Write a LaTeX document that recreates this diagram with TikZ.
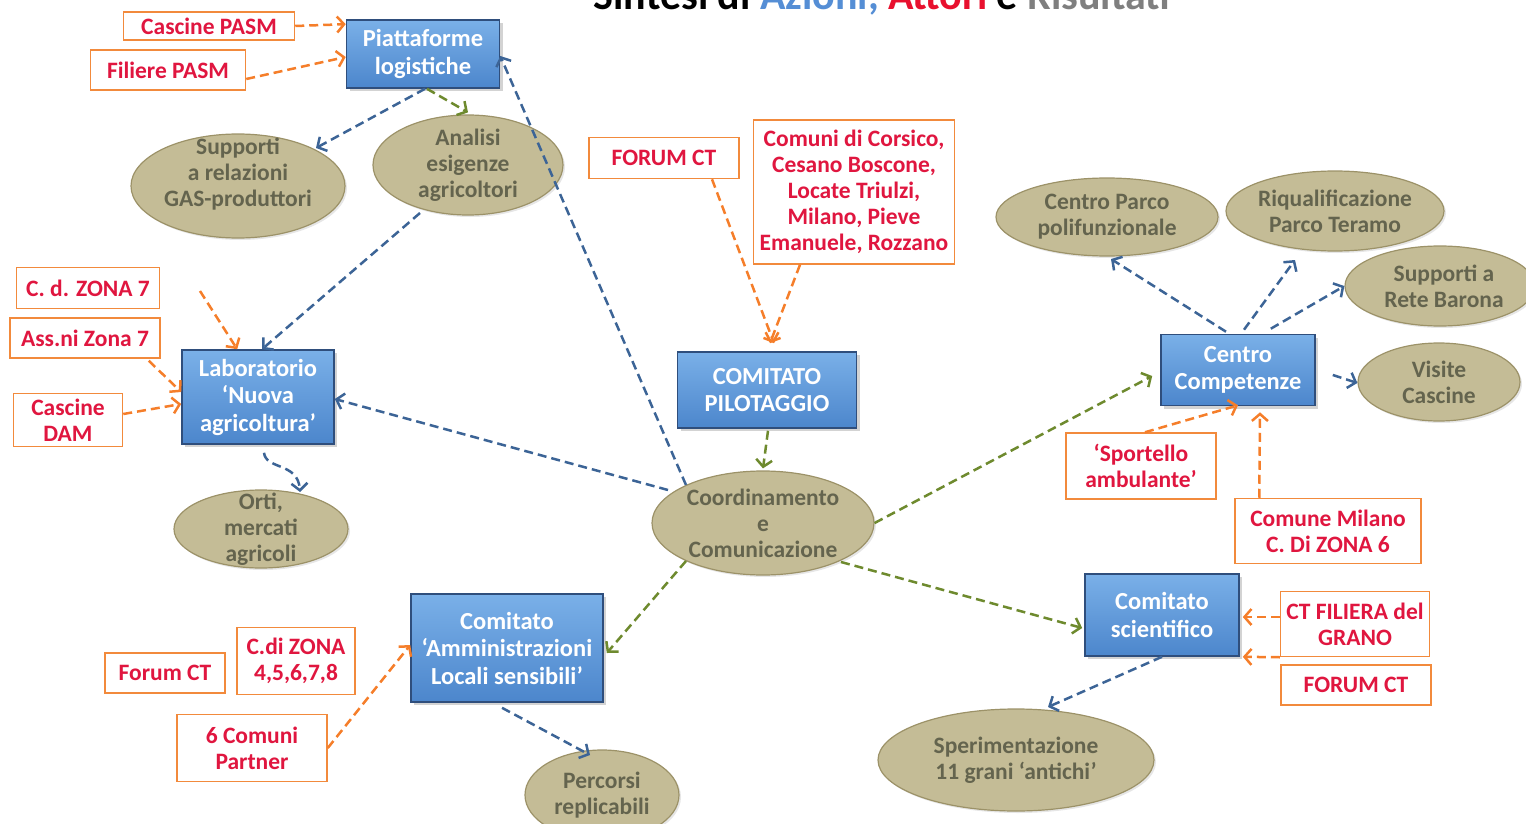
\documentclass[tikz,border=0pt]{standalone}
\usepackage{fontspec}
\setmainfont{Carlito}
\usetikzlibrary{arrows.meta,shadows,calc,shapes.geometric}
\definecolor{actTop}{HTML}{7AB0E8}
\definecolor{actBot}{HTML}{4C86CC}
\definecolor{actBorder}{HTML}{2F4E7C}
\definecolor{resFill}{HTML}{C4BC96}
\definecolor{resBorder}{HTML}{9C9268}
\definecolor{resText}{HTML}{64644E}
\definecolor{atBorder}{HTML}{F28A3C}
\definecolor{atText}{HTML}{E0163F}
\definecolor{arOrange}{HTML}{F57E2A}
\definecolor{arBlue}{HTML}{3C6496}
\definecolor{arGreen}{HTML}{6E8A2E}
\definecolor{tBlue}{HTML}{558ED5}
\definecolor{tRed}{HTML}{E8102E}
\definecolor{tGray}{HTML}{7F7F7F}
\tikzset{
  txt/.style={font=\fontsize{23.5}{26}\selectfont\bfseries, align=center},
  act/.style={rectangle, draw=actBorder, line width=1.6pt, top color=actTop, bottom color=actBot,
    text=white, font=\fontsize{24.5}{27.5}\selectfont\bfseries, align=center, inner sep=0pt,
    drop shadow={shadow xshift=3pt, shadow yshift=-3pt, opacity=0.35}},
  res/.style={ellipse, draw=resBorder, line width=1.2pt, fill=resFill, inner sep=0pt,
    drop shadow={shadow xshift=2pt, shadow yshift=-2pt, opacity=0.2}},
  restxt/.style={txt, text=resText},
  ator/.style={rectangle, draw=atBorder, line width=1.5pt, fill=white, text=atText, txt, inner sep=0pt},
  conn/.style={line width=2.5pt, dash pattern=on 9pt off 5pt, -{Straight Barb[length=7pt,width=16pt]}},
  oa/.style={conn, draw=arOrange},
  ba/.style={conn, draw=arBlue},
  ga/.style={conn, draw=arGreen},
}
\begin{document}
\begin{tikzpicture}[x=1pt,y=-1pt]
\useasboundingbox (0,0) rectangle (1526,824);
% title (cut at top)
\node[anchor=base, font=\fontsize{42}{48}\selectfont\bfseries, inner sep=0pt] (title) at (882,10)
  {Sintesi di \textcolor{tBlue}{Azioni,} \textcolor{tRed}{Attori} e \textcolor{tGray}{Risultati}};

% Actions
\node[act, minimum width=153pt, minimum height=68pt] (piat) at (423,54) {Piattaforme\\logistiche};
\node[act, minimum width=152pt, minimum height=94pt] (lab) at (258,397) {Laboratorio\\‘Nuova\\agricoltura’};
\node[act, minimum width=179pt, minimum height=76pt] (pilot) at (767,390) {COMITATO\\PILOTAGGIO};
\node[act, minimum width=154pt, minimum height=71pt] (cc) at (1238,370) {Centro\\Competenze};
\node[act, minimum width=192pt, minimum height=108pt] (amm) at (507,648) {Comitato\\‘Amministrazioni\\Locali sensibili’};
\node[act, minimum width=154pt, minimum height=82pt] (sci) at (1162,615) {Comitato\\scientifico};

% Results
\node[res, minimum width=214pt, minimum height=104pt] (gas) at (238,186) {};
\node[restxt] at (238,174) {Supporti\\a relazioni\\GAS-produttori};
\node[res, minimum width=190pt, minimum height=100pt] (anal) at (468,165) {};
\node[restxt] at (anal) {Analisi\\esigenze\\agricoltori};
\node[res, minimum width=174pt, minimum height=78pt] (orti) at (261,529) {};
\node[restxt] at (orti) {Orti,\\mercati\\agricoli};
\node[res, minimum width=222pt, minimum height=104pt] (coord) at (763,523) {};
\node[restxt] at (coord) {Coordinamento\\e\\Comunicazione};
\node[res, minimum width=222pt, minimum height=78pt] (parco) at (1107,217) {};
\node[restxt] at (parco) {Centro Parco\\polifunzionale};
\node[res, minimum width=218pt, minimum height=80pt] (teramo) at (1335,211) {};
\node[restxt] at (teramo) {Riqualificazione\\Parco Teramo};
\node[res, minimum width=190pt, minimum height=80pt] (barona) at (1440,286) {};
\node[restxt] at (1444,286) {Supporti a\\Rete Barona};
\node[res, minimum width=162pt, minimum height=78pt] (visite) at (1439,382) {};
\node[restxt] at (visite) {Visite\\Cascine};
\node[res, minimum width=276pt, minimum height=102pt] (sperim) at (1016,760) {};
\node[restxt] at (sperim) {Sperimentazione\\11 grani ‘antichi’};
\node[res, minimum width=154pt, minimum height=90pt] (perc) at (602,795) {};
\node[restxt] at (perc) {Percorsi\\replicabili};

% Actors
\node[ator, minimum width=171pt, minimum height=28pt] (cpasm) at (209,26) {Cascine PASM};
\node[ator, minimum width=155pt, minimum height=40pt] (fpasm) at (168,70) {Filiere PASM};
\node[ator, minimum width=143pt, minimum height=41pt] (cdz7) at (88,288) {C. d. ZONA 7};
\node[ator, minimum width=150pt, minimum height=40pt] (ass7) at (85,338) {Ass.ni Zona 7};
\node[ator, minimum width=109pt, minimum height=53pt] (cdam) at (68,420) {Cascine\\DAM};
\node[ator, minimum width=150pt, minimum height=41pt] (forum1) at (664,158) {FORUM CT};
\node[ator, minimum width=201pt, minimum height=144pt] (comuni) at (854,192) {Comuni di Corsico,\\Cesano Boscone,\\Locate Triulzi,\\Milano, Pieve\\Emanuele, Rozzano};
\node[ator, minimum width=150pt, minimum height=66pt] (sport) at (1141,466) {‘Sportello\\ambulante’};
\node[ator, minimum width=186pt, minimum height=65pt] (cmil) at (1328,531) {Comune Milano\\C. Di ZONA 6};
\node[ator, minimum width=149pt, minimum height=65pt] (ctfil) at (1355,624) {CT FILIERA del\\GRANO};
\node[ator, minimum width=150pt, minimum height=40pt] (forum2) at (1356,685) {FORUM CT};
\node[ator, minimum width=120pt, minimum height=40pt] (forum3) at (165,673) {Forum CT};
\node[ator, minimum width=118pt, minimum height=67pt] (cdz) at (296,661) {C.di ZONA\\4,5,6,7,8};
\node[ator, minimum width=150pt, minimum height=67pt] (com6) at (252,748) {6 Comuni\\Partner};

% Orange connectors
\draw[oa] (cpasm.east) -- ($(piat.north west)+(0,5)$);
\draw[oa] ($(fpasm.east)+(0,9)$) -- ($(piat.west)+(0,3)$);
\coordinate (cdzfree) at (200,291);
\draw[oa] (cdzfree) -- ($(lab.north west)+(56,0)$);
\draw[oa] ($(ass7.south east)+(-12,2)$) -- ($(lab.west)+(0,-5)$);
\draw[oa] ($(cdam.east)+(0,-6)$) -- ($(lab.west)+(0,7)$);
\draw[oa] ($(forum1.south)+(48,0)$) -- ($(pilot.north)+(7,-8)$);
\draw[oa] ($(comuni.south)+(-54,0)$) -- ($(pilot.north)+(3,-8)$);
\draw[oa] ($(sport.north)+(4,0)$) -- ($(cc.south)+(0,-1)$);
\draw[oa] ($(cmil.north west)+(25,0)$) -- ($(cc.south)+(22,6)$);
\draw[oa] ($(ctfil.west)+(0,-7)$) -- ($(sci.east)+(3,2)$);
\draw[oa] (ctfil.south west) -- ($(sci.south east)+(3,0)$);
\draw[oa] (com6.east) -- ($(amm.west)+(0,-3)$);

% Blue connectors
\draw[ba] ($(piat.south)+(2,0)$) -- ($(gas)+(78,-38)$);
\draw[ba] ($(anal)+(-48,48)$) -- ($(lab.north)+(4,0)$);
\draw[ba] ($(coord)+(-95,-33)$) -- ($(lab.east)+(0,2)$);
\draw[ba] ($(coord)+(-77,-38)$) -- ($(piat.east)+(0,2)$);
\draw[ba] ($(lab.south)+(6,8)$) .. controls (266,470) and (298,462) .. ($(orti)+(39,-37)$);
\draw[ba] ($(cc.north)+(-12,-2)$) -- ($(parco)+(4,42)$);
\draw[ba] ($(cc.north)+(6,-4)$) -- ($(teramo)+(-40,49)$);
\draw[ba] ($(cc.north east)+(-45,-5)$) -- (barona.west);
\draw[ba] ($(cc.east)+(17,5)$) -- ($(visite.west)+(0,1)$);
\draw[ba] ($(amm.south)+(-5,5)$) -- ($(perc)+(-12,-40)$);
\draw[ba] (sci.south) -- ($(sperim)+(32,-53)$);

% Green connectors
\draw[ga] ($(piat.south)+(4,0)$) -- ($(anal.north)+(0,-2)$);
\draw[ga] ($(pilot.south)+(1,2)$) -- ($(coord.north)+(0,-2)$);
\draw[ga] (coord.east) -- ($(cc.west)+(-8,6)$);
\draw[ga] ($(coord)+(78,39)$) -- ($(sci.west)+(-2,13)$);
\draw[ga] ($(coord)+(-77,38)$) -- ($(amm.east)+(3,5)$);
\end{tikzpicture}
\end{document}
